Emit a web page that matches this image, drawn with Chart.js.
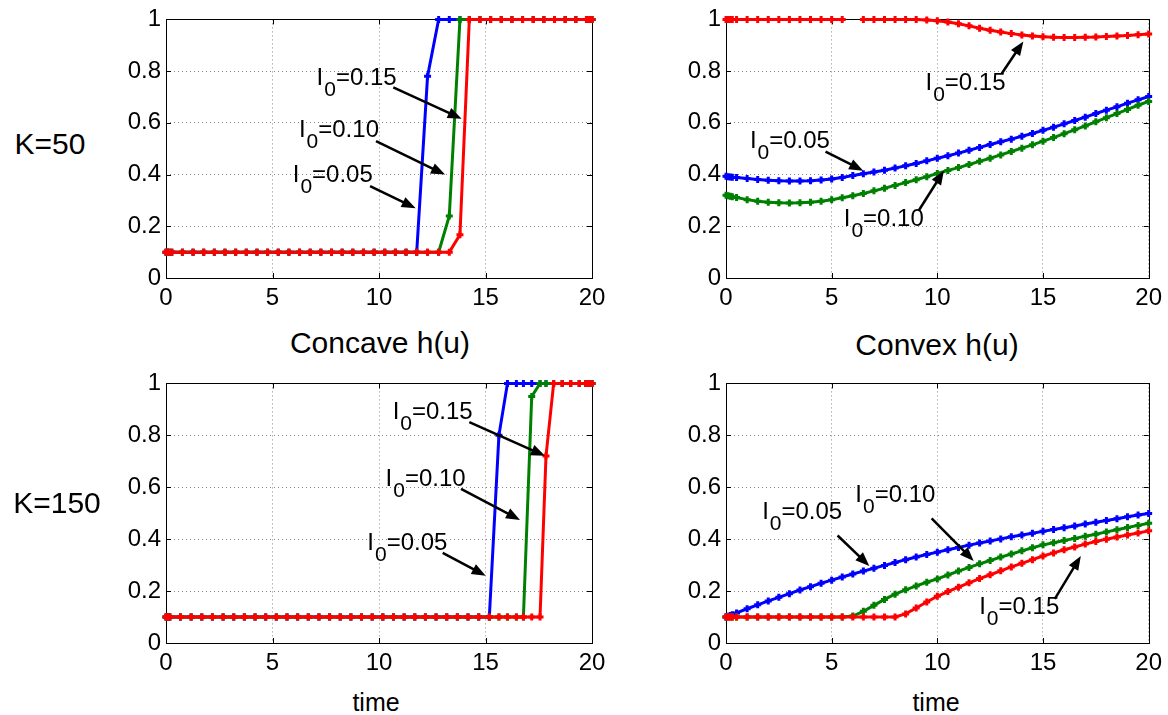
<!DOCTYPE html>
<html>
<head>
<meta charset="utf-8">
<script src="https://cdn.jsdelivr.net/npm/chart.js@4.4.0/dist/chart.umd.min.js"></script>
<style>
  body { margin: 0; background: #fff; width: 1168px; height: 715px; position: relative; overflow: hidden;
         font-family: "Liberation Sans", Arial, Helvetica, sans-serif; }
  .box { position: absolute; }
  .lbl { position: absolute; white-space: nowrap; transform: translate(-50%, -50%); line-height: 1; color: #000; }
</style>
</head>
<body>
<div class="box" style="left:100px;top:0;width:520px;height:312px"><canvas id="c1"></canvas></div>
<div class="box" style="left:660px;top:0;width:508px;height:312px"><canvas id="c2"></canvas></div>
<div class="box" style="left:100px;top:364px;width:520px;height:313px"><canvas id="c3"></canvas></div>
<div class="box" style="left:660px;top:364px;width:508px;height:313px"><canvas id="c4"></canvas></div>

<div class="lbl" style="left:50px;top:144px;font-size:30px">K=50</div>
<div class="lbl" style="left:57px;top:503px;font-size:30px">K=150</div>
<div class="lbl" style="left:380px;top:343px;font-size:30px">Concave h(u)</div>
<div class="lbl" style="left:937px;top:345px;font-size:30px">Convex h(u)</div>
<div class="lbl" style="left:376px;top:702px;font-size:25px">time</div>
<div class="lbl" style="left:936px;top:702px;font-size:25px">time</div>

<script>
// ---- data ----
const seriesLabels = ["0.05", "0.10", "0.15"];
const seriesColors = ["#0000ff", "#008000", "#ff0000"];
const xTicks = [0, 5, 10, 15, 20];
const yTicks = [0, 0.2, 0.4, 0.6, 0.8, 1];

// concave h(u), K=50
const tA = [0, 0.07, 0.14, 0.27, 0.77, 1.27, 1.77, 2.27, 2.77, 3.27, 3.77, 4.27, 4.77, 5.27, 5.77,
  6.27, 6.77, 7.27, 7.77, 8.27, 8.77, 9.27, 9.77, 10.27, 10.77, 11.27, 11.77, 12.28, 12.8, 13.3,
  13.8, 14.24, 14.74, 15.24, 15.74, 16.24, 16.74, 17.24, 17.74, 18.24, 18.74, 19.24, 19.74, 19.87, 20];
const blueA = [
  0.1, 0.1, 0.1, 0.1, 0.1, 0.1, 0.1, 0.1, 0.1, 0.1,
  0.1, 0.1, 0.1, 0.1, 0.1, 0.1, 0.1, 0.1, 0.1, 0.1,
  0.1, 0.1, 0.1, 0.1, 0.1, 0.1, 0.1, 0.78, 1, 1,
  1, 1, 1, 1, 1, 1, 1, 1, 1, 1,
  1, 1, 1, 1, 1];
const greenA = [
  0.1, 0.1, 0.1, 0.1, 0.1, 0.1, 0.1, 0.1, 0.1, 0.1,
  0.1, 0.1, 0.1, 0.1, 0.1, 0.1, 0.1, 0.1, 0.1, 0.1,
  0.1, 0.1, 0.1, 0.1, 0.1, 0.1, 0.1, 0.1, 0.1, 0.24,
  1, 1, 1, 1, 1, 1, 1, 1, 1, 1,
  1, 1, 1, 1, 1];
const redA = [
  0.1, 0.1, 0.1, 0.1, 0.1, 0.1, 0.1, 0.1, 0.1, 0.1,
  0.1, 0.1, 0.1, 0.1, 0.1, 0.1, 0.1, 0.1, 0.1, 0.1,
  0.1, 0.1, 0.1, 0.1, 0.1, 0.1, 0.1, 0.1, 0.1, 0.1,
  0.167, 1, 1, 1, 1, 1, 1, 1, 1, 1,
  1, 1, 1, 1, 1];

// concave h(u), K=150
const tB = [0, 0.06, 0.12, 0.18, 0.68, 1.18, 1.68, 2.18, 2.68, 3.18, 3.68, 4.18, 4.68, 5.18, 5.68,
  6.18, 6.68, 7.18, 7.68, 8.18, 8.68, 9.18, 9.68, 10.18, 10.68, 11.18, 11.68, 12.18, 12.68, 13.18,
  13.68, 14.18, 14.68, 15.18, 15.63, 16.03, 16.45, 16.78, 17.17, 17.56, 17.84, 18.2, 18.6, 19.0,
  19.4, 19.7, 19.85, 20];
const blueB = [
  0.1, 0.1, 0.1, 0.1, 0.1, 0.1, 0.1, 0.1, 0.1, 0.1,
  0.1, 0.1, 0.1, 0.1, 0.1, 0.1, 0.1, 0.1, 0.1, 0.1,
  0.1, 0.1, 0.1, 0.1, 0.1, 0.1, 0.1, 0.1, 0.1, 0.1,
  0.1, 0.1, 0.1, 0.1, 0.8, 1, 1, 1, 1, 1,
  1, 1, 1, 1, 1, 1, 1, 1];
const greenB = [
  0.1, 0.1, 0.1, 0.1, 0.1, 0.1, 0.1, 0.1, 0.1, 0.1,
  0.1, 0.1, 0.1, 0.1, 0.1, 0.1, 0.1, 0.1, 0.1, 0.1,
  0.1, 0.1, 0.1, 0.1, 0.1, 0.1, 0.1, 0.1, 0.1, 0.1,
  0.1, 0.1, 0.1, 0.1, 0.1, 0.1, 0.1, 0.1, 0.95, 1,
  1, 1, 1, 1, 1, 1, 1, 1];
const redB = [
  0.1, 0.1, 0.1, 0.1, 0.1, 0.1, 0.1, 0.1, 0.1, 0.1,
  0.1, 0.1, 0.1, 0.1, 0.1, 0.1, 0.1, 0.1, 0.1, 0.1,
  0.1, 0.1, 0.1, 0.1, 0.1, 0.1, 0.1, 0.1, 0.1, 0.1,
  0.1, 0.1, 0.1, 0.1, 0.1, 0.1, 0.1, 0.1, 0.1, 0.1,
  0.72, 1, 1, 1, 1, 1, 1, 1];

// convex h(u), shared time grid
const tC = [0, 0.1, 0.2, 0.3, 0.5, 1, 1.5, 2, 2.5, 3, 3.5, 4, 4.5, 5, 5.5, 6, 6.5, 7, 7.5, 8,
  8.5, 9, 9.5, 10, 10.5, 11, 11.5, 12, 12.5, 13, 13.5, 14, 14.5, 15, 15.5, 16, 16.5, 17, 17.5, 18,
  18.5, 19, 19.5, 20];
// K=50
const blueC = [0.393, 0.392, 0.391, 0.39, 0.389, 0.385, 0.381, 0.378, 0.376, 0.375, 0.375, 0.376,
  0.379, 0.383, 0.389, 0.396, 0.403, 0.41, 0.417, 0.425, 0.434, 0.443, 0.453, 0.463, 0.473, 0.483,
  0.494, 0.505, 0.516, 0.527, 0.537, 0.548, 0.559, 0.571, 0.583, 0.596, 0.609, 0.622, 0.636, 0.649,
  0.662, 0.676, 0.689, 0.702];
const greenC = [0.32, 0.318, 0.316, 0.314, 0.311, 0.303, 0.297, 0.293, 0.291, 0.29, 0.291, 0.293,
  0.297, 0.303, 0.31, 0.318, 0.327, 0.337, 0.347, 0.358, 0.369, 0.38, 0.392, 0.404, 0.416, 0.427,
  0.439, 0.451, 0.463, 0.476, 0.489, 0.502, 0.515, 0.529, 0.543, 0.558, 0.573, 0.588, 0.604, 0.62,
  0.636, 0.652, 0.668, 0.683];
const redC = [1, 1, 1, 1, 1, 1, 1, 1, 1, 1, 1, 1, 1, 1, 1, null, 1, 1, 1, 1, 1, 1,
  0.998, 0.995, 0.99, 0.983, 0.975, 0.966, 0.958, 0.951, 0.945, 0.94, 0.936, 0.933, 0.931, 0.93,
  0.93, 0.931, 0.932, 0.934, 0.936, 0.938, 0.941, 0.944];
// K=150
const blueD = [0.1, 0.103, 0.106, 0.109, 0.116, 0.132, 0.147, 0.162, 0.176, 0.19, 0.204, 0.217,
  0.23, 0.242, 0.254, 0.266, 0.277, 0.288, 0.299, 0.31, 0.321, 0.331, 0.341, 0.35, 0.359, 0.368,
  0.377, 0.385, 0.393, 0.401, 0.409, 0.416, 0.423, 0.43, 0.437, 0.444, 0.451, 0.458, 0.465, 0.472,
  0.479, 0.486, 0.493, 0.499];
const greenD = [0.1, 0.1, 0.1, 0.1, 0.1, 0.1, 0.1, 0.1, 0.1, 0.1, 0.1, 0.1, 0.1, 0.1, 0.1,
  0.104, 0.122, 0.145, 0.168, 0.188, 0.205, 0.22, 0.234, 0.247, 0.262, 0.277, 0.291, 0.305, 0.318,
  0.331, 0.343, 0.355, 0.367, 0.378, 0.386, 0.395, 0.403, 0.411, 0.419, 0.428, 0.436, 0.445, 0.453,
  0.461];
const redD = [0.1, 0.1, 0.1, 0.1, 0.1, 0.1, 0.1, 0.1, 0.1, 0.1, 0.1, 0.1, 0.1, 0.1, 0.1, 0.1,
  0.1, 0.1, 0.1, 0.1, 0.112, 0.135, 0.158, 0.18, 0.198, 0.215, 0.232, 0.248, 0.263, 0.278, 0.293,
  0.307, 0.321, 0.335, 0.347, 0.359, 0.37, 0.381, 0.391, 0.4, 0.408, 0.416, 0.424, 0.432];

// ---- label/arrow placement (data coordinates) ----
// s = series index, (tx,ty) = left/middle of text, arrow from (x1,y1) to (x2,y2)
const notesA = [
  { s: 2, tx: 7.07, ty: 0.771, x1: 10.67, y1: 0.737, x2: 13.88, y2: 0.616 },
  { s: 1, tx: 6.24, ty: 0.571, x1: 9.86, y1: 0.529, x2: 13.1, y2: 0.4 },
  { s: 0, tx: 5.95, ty: 0.396, x1: 9.58, y1: 0.355, x2: 11.72, y2: 0.27 },
];
const notesB = [
  { s: 2, tx: 10.64, ty: 0.889, x1: 14.24, y1: 0.851, x2: 17.79, y2: 0.721 },
  { s: 1, tx: 10.31, ty: 0.632, x1: 13.85, y1: 0.594, x2: 16.62, y2: 0.474 },
  { s: 0, tx: 9.45, ty: 0.385, x1: 12.99, y1: 0.347, x2: 15.01, y2: 0.259 },
];
const notesC = [
  { s: 2, tx: 9.44, ty: 0.752, x1: 13.05, y1: 0.791, x2: 14.07, y2: 0.915 },
  { s: 0, tx: 1.13, ty: 0.529, x1: 4.71, y1: 0.489, x2: 6.49, y2: 0.415 },
  { s: 1, tx: 5.57, ty: 0.228, x1: 9.13, y1: 0.262, x2: 10.31, y2: 0.415 },
];
const notesD = [
  { s: 0, tx: 1.71, ty: 0.502, x1: 5.28, y1: 0.414, x2: 6.78, y2: 0.297 },
  { s: 1, tx: 6.12, ty: 0.569, x1: 9.73, y1: 0.48, x2: 11.72, y2: 0.316 },
  { s: 2, tx: 11.98, ty: 0.138, x1: 15.56, y1: 0.17, x2: 16.79, y2: 0.335 },
];

const FONT = '"Liberation Sans", Arial, Helvetica, sans-serif';
Chart.defaults.font.family = FONT;
Chart.defaults.color = "#000";

function drawArrow(ctx, x1, y1, x2, y2) {
  const a = Math.atan2(y2 - y1, x2 - x1);
  const L = 14, W = 5.5;
  const c = Math.cos(a), s = Math.sin(a);
  ctx.lineWidth = 2.5;
  ctx.beginPath();
  ctx.moveTo(x1, y1);
  ctx.lineTo(x2 - L * 0.7 * c, y2 - L * 0.7 * s);
  ctx.stroke();
  ctx.beginPath();
  ctx.moveTo(x2, y2);
  ctx.lineTo(x2 - L * c - W * s, y2 - L * s + W * c);
  ctx.lineTo(x2 - L * c + W * s, y2 - L * s - W * c);
  ctx.closePath();
  ctx.fill();
}

function makeChart(id, t, ys, notes) {
  const frame = {
    id: "frame" + id,
    beforeDatasetsDraw(chart) {
      const { ctx, chartArea: a, scales: { x, y } } = chart;
      ctx.save();
      ctx.strokeStyle = "#000";
      ctx.lineWidth = 1;
      ctx.strokeRect(Math.round(a.left) + 0.5, Math.round(a.top) + 0.5,
        Math.round(a.width), Math.round(a.height));
      ctx.beginPath();
      xTicks.forEach(v => {
        const p = Math.round(x.getPixelForValue(v)) + 0.5;
        ctx.moveTo(p, a.bottom); ctx.lineTo(p, a.bottom - 5);
        ctx.moveTo(p, a.top); ctx.lineTo(p, a.top + 5);
      });
      yTicks.forEach(v => {
        const p = Math.round(y.getPixelForValue(v)) + 0.5;
        ctx.moveTo(a.left, p); ctx.lineTo(a.left + 5, p);
        ctx.moveTo(a.right, p); ctx.lineTo(a.right - 5, p);
      });
      ctx.stroke();
      ctx.restore();
    },
    afterDraw(chart) {
      const { ctx, scales: { x, y } } = chart;
      ctx.save();
      ctx.fillStyle = "#000";
      ctx.strokeStyle = "#000";
      notes.forEach(n => {
        const px = x.getPixelForValue(n.tx), py = y.getPixelForValue(n.ty);
        ctx.textAlign = "left";
        ctx.textBaseline = "middle";
        ctx.font = "24px " + FONT;
        ctx.fillText("I", px, py);
        let w = ctx.measureText("I").width + 1;
        ctx.font = "21px " + FONT;
        ctx.fillText("0", px + w, py + 12);
        w += ctx.measureText("0").width;
        ctx.font = "24px " + FONT;
        ctx.fillText("=" + seriesLabels[n.s], px + w, py);
        drawArrow(ctx, x.getPixelForValue(n.x1), y.getPixelForValue(n.y1),
          x.getPixelForValue(n.x2), y.getPixelForValue(n.y2));
      });
      ctx.restore();
    }
  };

  new Chart(document.getElementById(id), {
    type: "line",
    data: {
      datasets: ys.map((vals, i) => ({
        label: "I0=" + seriesLabels[i],
        data: t.map((tv, j) => ({ x: tv, y: vals[j] })),
        order: ys.length - i,
        borderColor: seriesColors[i],
        backgroundColor: seriesColors[i],
        borderWidth: 3,
        pointStyle: "cross",
        pointRadius: 3.5,
        pointBorderWidth: 3,
        tension: 0,
        spanGaps: false,
        clip: 8
      }))
    },
    options: {
      responsive: true,
      maintainAspectRatio: false,
      animation: false,
      layout: { padding: { top: 16, right: id === "c2" || id === "c4" ? 17 : 28, left: 0, bottom: 0 } },
      plugins: { legend: { display: false }, tooltip: { enabled: false } },
      scales: {
        x: {
          type: "linear", min: 0, max: 20,
          afterFit: s => { s.height = 34; },
          afterBuildTicks: s => { s.ticks = xTicks.map(v => ({ value: v })); },
          ticks: { font: { size: 24 }, color: "#000", padding: 6, maxRotation: 0 },
          grid: { color: "#8a8a8a", lineWidth: 1, drawTicks: false },
          border: { display: false, dash: [1, 3] }
        },
        y: {
          min: 0, max: 1,
          afterFit: s => { s.width = 66; },
          afterBuildTicks: s => { s.ticks = yTicks.map(v => ({ value: v })); },
          ticks: { font: { size: 24 }, color: "#000", padding: 5, callback: v => String(Math.round(v * 10) / 10) },
          grid: { color: "#8a8a8a", lineWidth: 1, drawTicks: false },
          border: { display: false, dash: [1, 3] }
        }
      }
    },
    plugins: [frame]
  });
}

makeChart("c1", tA, [blueA, greenA, redA], notesA);
makeChart("c2", tC, [blueC, greenC, redC], notesC);
makeChart("c3", tB, [blueB, greenB, redB], notesB);
makeChart("c4", tC, [blueD, greenD, redD], notesD);
</script>
</body>
</html>
